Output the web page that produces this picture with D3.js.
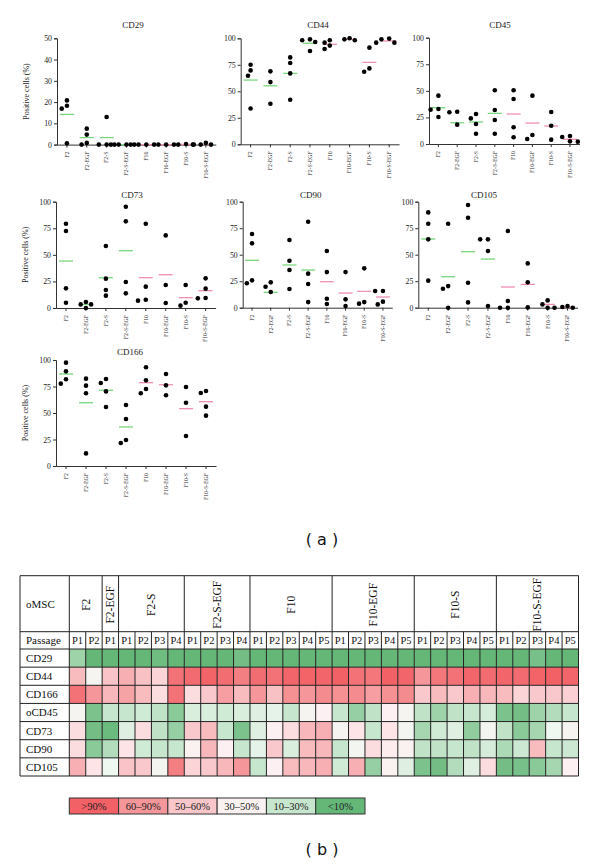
<!DOCTYPE html>
<html><head><meta charset="utf-8">
<script src="https://cdn.jsdelivr.net/npm/d3@7"></script>
<style>body{margin:0;background:#fff} svg{display:block}</style>
</head><body>
<svg id="c" width="600" height="864"></svg>
<script>
// ---------- DATA ----------
const groups = ["F2","F2-EGF","F2-S","F2-S-EGF","F10","F10-EGF","F10-S","F10-S-EGF"];

const cd29  = [[18.3,20.8,16.9,0.6],[7.5,4.7,0.8,0],[13,0,0,0],[0,0,0,0],[0,0,0,0],[0,0,0],[0.3,0,0],[0,0,0,0.8]];
const cd29Means  = [14.2,3.3,3.3,0,0,0,0.1,0.2];
const cd44  = [[69.7,75.1,64.7,33.8],[68.8,58.7,38.2],[82,76.7,66.9,42],[98.1,96.5,99,88],[98.1,89.9,93.1,95.9],[100,98.1,99],[91.2,68.5,71.6],[99,95.9,95.9,99.7]];
const cd44Means  = [60.6,55.2,66.9,95.3,94.3,99,77.3,97.5];
const cd45  = [[32.9,45.5,32.3,25.4],[29.8,30.4,18.2],[24.1,28.2,18.8,9.7],[50.5,32,22.6,9.7],[50.5,42.3,15.7,6.3],[45.5,4.7,8.5],[30.1,17.2,4.1],[6.6,7.5,2.2,2.5]];
const cd45Means  = [34.2,20,20.7,28.8,28.2,19.7,16.9,4.4];
const cd73  = [[79.3,72.4,18.5,5],[3.4,5.6,3.4,0],[58.3,27.6,16.9,11.6],[95.3,81.5,24.5,13.8],[79.3,20.1,6.9,7.8],[68.3,21.6,4.7],[21.6,2.2,5],[27.9,18.2,9.1,9.4]];
const cd73Means  = [44.2,3.4,28.5,53.9,28.5,31.3,9.7,16.3];
const cd90  = [[69.5,60.7,23,25.8],[19.8,23.9,14.8],[63.8,44.3,35.5,17.6],[81.1,32.1,22.3,5.3],[53.5,33.6,8.5,3.5],[33.6,7.9,1.6],[37.1,3.8,5.3],[15.7,15.7,3.1,5.7]];
const cd90Means  = [44.7,14.5,40.3,35.5,24.5,13.8,15.4,10.1];
const cd105 = [[89.9,79.2,64.5,25.5],[79.2,20.4,17.9,0],[96.9,84.9,23.6,5],[64.5,64.5,53.5,1.6],[72.3,6.3,0,0],[41.8,23.9,0.3],[6.9,0,3.1],[0.6,0,0,1.6]];
const cd105Means = [64.8,29.2,52.8,45.9,19.5,22,3.1,0.55];
const cd166 = [[97.5,89.3,81.8,77.7],[82.4,75.8,68.6,11.9],[78.3,82.1,70.4,55.7],[57.5,44.3,21.7,24.5],[93.1,80.8,68.6,72.6],[86.8,76.1,66.7],[74.5,59.7,28.3],[68.9,70.8,56,47.5]];
const cd166Means = [86.8,59.7,71.4,36.8,78.6,76.7,54.1,60.7];

const ticks50  = [0,10,20,30,40,50];
const ticks100 = [0,25,50,75,100];

// Table (b)
const tableGroups   = ["F2","F2-EGF","F2-S","F2-S-EGF","F10","F10-EGF","F10-S","F10-S-EGF"];
const tablePassages = [2,1,4,4,5,5,5,5];
const tableRows     = ["CD29","CD44","CD166","oCD45","CD73","CD90","CD105"];
const tCD29  = [15,4,4,4,4,7,4,4,4,4,8,4,4,4,4,4, 4,4,4,4,4, 4,4,4,4,4, 4,4,9,4,4];
const tCD44  = [60,40,57,65,58,52,90,93,96,92,85,92,90,95,96,95, 97,90,88,97,95, 75,88,90,95,93, 95,93,96,97,95];
const tCD166 = [90,75,62,70,60,50,90,50,55,72,60,75,58,78,75,80, 78,80,72,78,80, 55,60,55,65,62, 60,52,55,55,53];
const tCD45  = [40,10,22,22,25,20,12,28,28,25,28,30,32,22,40,45, 22,14,20,45,40, 20,15,20,22,27, 10,8,15,18,22];
const tCD73  = [50,8,6,30,50,20,14,55,60,22,10,30,45,50,62,65, 40,48,22,48,38, 16,25,30,13,38, 20,12,16,35,40];
const tCD90  = [50,12,18,48,25,22,22,42,62,45,22,32,55,28,60,62, 22,38,50,46,42, 20,20,22,20,27, 17,24,60,22,24];
const tCD105 = [65,48,35,57,55,38,85,52,55,62,75,22,45,60,62,65, 25,65,14,42,30, 10,8,18,30,50, 8,9,12,16,45];
const tableValues = [tCD29,tCD44,tCD166,tCD45,tCD73,tCD90,tCD105];
const legendLabels = [">90%","60\u201390%","50\u201360%","30\u201350%","10\u201330%","<10%"];
const legendValues = [97,75,56,42,22,4];

// ---------- DRAW ----------
const svg = d3.select("#c");
const serif = "'Liberation Serif','Times New Roman',serif";
const green = "#79d67e", pink = "#f08fb5";

function swarm(vals, y, D, s){
  const order = vals.map((v,i)=>i).sort((a,b)=>vals[b]-vals[a]);
  const placed = [], out = new Array(vals.length).fill(0);
  order.forEach(i=>{
    const py = y(vals[i]);
    for(let k=0;k<30;k++){
      const dx = k===0?0:(k%2?-1:1)*Math.ceil(k/2)*s;
      if(placed.every(p=>Math.hypot(p.dx-dx,p.py-py)>=D)){placed.push({dx,py});out[i]=dx;break;}
    }
  });
  return out;
}

const panels = [
 {name:"CD29", vals:cd29, means:cd29Means, max:50, ticks:ticks50, x0:57, step:19.85, top:38.3, bottom:144.6, ylab:true, tx:133, ty:28},
 {name:"CD44", vals:cd44, means:cd44Means, max:100, ticks:ticks100, x0:240.7, step:19.8, top:38.3, bottom:144.3, tx:318, ty:28},
 {name:"CD45", vals:cd45, means:cd45Means, max:100, ticks:ticks100, x0:429, step:18.8, top:37.7, bottom:144, tx:500, ty:28},
 {name:"CD73", vals:cd73, means:cd73Means, max:100, ticks:ticks100, x0:56, step:19.95, top:201.7, bottom:308, ylab:true, tx:132, ty:198},
 {name:"CD90", vals:cd90, means:cd90Means, max:100, ticks:ticks100, x0:242.7, step:18.7, top:201.7, bottom:307.7, tx:310.7, ty:198},
 {name:"CD105", vals:cd105, means:cd105Means, max:100, ticks:ticks100, x0:418.3, step:19.9, top:201.7, bottom:307.7, tx:484, ty:198},
 {name:"CD166", vals:cd166, means:cd166Means, max:100, ticks:ticks100, x0:56, step:20, top:360, bottom:466, ylab:true, tx:130, ty:355},
];

panels.forEach(p=>{
  const g = svg.append("g");
  const y = d3.scaleLinear().domain([0,p.max]).range([p.bottom,p.top]);
  const x = d3.scaleBand().domain(groups).range([p.x0,p.x0+8*p.step]);
  // y axis
  const ya = g.append("g").attr("transform",`translate(${p.x0},0)`)
    .call(d3.axisLeft(y).tickValues(p.ticks).tickSize(3).tickPadding(2));
  ya.selectAll("text").attr("font-family",serif).attr("font-size",7.8).attr("fill","#222");
  ya.selectAll("path,line").attr("stroke","#333");
  // x axis
  const xa = g.append("g").attr("transform",`translate(0,${p.bottom})`)
    .call(d3.axisBottom(x).tickSize(3).tickSizeOuter(0));
  xa.selectAll("path,line").attr("stroke","#333");
  xa.selectAll("text").attr("font-family",serif).attr("font-size",5.8).attr("fill","#333")
    .attr("text-anchor","end").attr("dy","0.32em").attr("dx",0)
    .attr("transform","translate(0,7) rotate(-90)").attr("x",0).attr("y",0);
  // title
  g.append("text").attr("x",p.tx).attr("y",p.ty).attr("text-anchor","middle")
    .attr("font-family",serif).attr("font-size",9).attr("fill","#222").text(p.name);
  if(p.ylab){
    g.append("text").attr("transform",`translate(${p.x0-28},${(p.top+p.bottom)/2}) rotate(-90)`)
      .attr("text-anchor","middle").attr("font-family",serif).attr("font-size",8).attr("fill","#222")
      .text("Positive cells (%)");
  }
  // means
  g.selectAll("line.mean").data(p.means).join("line").attr("class","mean")
    .attr("x1",(d,i)=>x(groups[i])+x.bandwidth()/2-7)
    .attr("x2",(d,i)=>x(groups[i])+x.bandwidth()/2+7)
    .attr("y1",d=>y(d)).attr("y2",d=>y(d))
    .attr("stroke",(d,i)=>i<4?green:pink).attr("stroke-width",1.3);
  // dots
  p.vals.forEach((vs,gi)=>{
    const offs = swarm(vs,y,5.3,2.6);
    const cx = x(groups[gi])+x.bandwidth()/2;
    g.selectAll(null).data(vs).join("circle")
      .attr("cx",(d,i)=>cx+offs[i]).attr("cy",d=>y(d)).attr("r",2.3).attr("fill","#000");
  });
});

// (a)
svg.append("text").attr("x",322).attr("y",545).attr("text-anchor","middle")
  .attr("font-family","'DejaVu Sans',sans-serif").attr("font-size",16).attr("fill","#111").text("( a )");

// ---------- TABLE ----------
const color = d3.scaleLinear()
  .domain([0,10,20,35,45,55,70,100])
  .range(["#55b06a","#7cc28c","#c0e3c8","#eef7f0","#fdf0f2","#f9c8cc","#f6a3a6","#f15a5f"])
  .clamp(true);

const tLeft = 20, cLeft = 69.3, cW = (578.5-69.3)/31;
const hTop = 575.7, hBot = 631.7, pBot = 649;
const rowH = (776-649)/7;
const tg = svg.append("g");

tableValues.forEach((row,ri)=>{
  tg.selectAll(null).data(row).join("rect")
    .attr("x",(d,i)=>cLeft+i*cW).attr("y",pBot+ri*rowH)
    .attr("width",cW).attr("height",rowH).attr("fill",d=>color(d));
});
// grid
const tBot = pBot+7*rowH, tRight = cLeft+31*cW;
const lines = [];
lines.push([tLeft,hTop,tRight,hTop],[tLeft,hBot,tRight,hBot]);
for(let r=0;r<=7;r++) lines.push([tLeft,pBot+r*rowH,tRight,pBot+r*rowH]);
lines.push([tLeft,hTop,tLeft,tBot],[cLeft,hTop,cLeft,tBot],[tRight,hTop,tRight,tBot]);
let col=0;
const groupStarts=[];
tablePassages.forEach((n,gi)=>{
  groupStarts.push(col);
  for(let k=1;k<n;k++) lines.push([cLeft+(col+k)*cW,hBot,cLeft+(col+k)*cW,tBot]);
  col+=n;
  lines.push([cLeft+col*cW,hTop,cLeft+col*cW,tBot]);
});
tg.selectAll("line").data(lines).join("line")
  .attr("x1",d=>d[0]).attr("y1",d=>d[1]).attr("x2",d=>d[2]).attr("y2",d=>d[3])
  .attr("stroke","#222").attr("stroke-width",1);

// header labels
tablePassages.forEach((n,gi)=>{
  const cx = cLeft+(groupStarts[gi]+n/2)*cW;
  tg.append("text").attr("transform",`translate(${cx},${(hTop+hBot)/2+1}) rotate(-90)`)
    .attr("text-anchor","middle").attr("dy","0.35em").attr("font-family",serif)
    .attr("font-size",11.5).attr("fill","#111").text(tableGroups[gi]);
  for(let k=0;k<n;k++){
    tg.append("text").attr("x",cLeft+(groupStarts[gi]+k+0.5)*cW).attr("y",(hBot+pBot)/2)
      .attr("dy","0.36em").attr("text-anchor","middle").attr("font-family",serif)
      .attr("font-size",10.5).attr("fill","#111").text("P"+(k+1));
  }
});
tg.append("text").attr("x",26).attr("y",(hTop+hBot)/2).attr("dy","0.35em")
  .attr("font-family",serif).attr("font-size",11).attr("fill","#111").text("oMSC");
tg.append("text").attr("x",26).attr("y",(hBot+pBot)/2).attr("dy","0.36em")
  .attr("font-family",serif).attr("font-size",11).attr("fill","#111").text("Passage");
tableRows.forEach((r,ri)=>{
  tg.append("text").attr("x",26).attr("y",pBot+(ri+0.5)*rowH).attr("dy","0.36em")
    .attr("font-family",serif).attr("font-size",11).attr("fill","#111").text(r);
});

// legend
const lTop = 798, lH = 16, lW = (365-69.3)/6;
const lg = svg.append("g");
lg.selectAll("rect").data(legendValues).join("rect")
  .attr("x",(d,i)=>69.3+i*lW).attr("y",lTop).attr("width",lW).attr("height",lH)
  .attr("fill",d=>color(d)).attr("stroke","#333").attr("stroke-width",1);
lg.selectAll("text").data(legendLabels).join("text")
  .attr("x",(d,i)=>69.3+(i+0.5)*lW).attr("y",lTop+lH/2).attr("dy","0.35em")
  .attr("text-anchor","middle").attr("font-family",serif).attr("font-size",10.5).attr("fill","#222")
  .text(d=>d);

svg.append("text").attr("x",322).attr("y",855).attr("text-anchor","middle")
  .attr("font-family","'DejaVu Sans',sans-serif").attr("font-size",16).attr("fill","#111").text("( b )");
</script>
</body></html>
